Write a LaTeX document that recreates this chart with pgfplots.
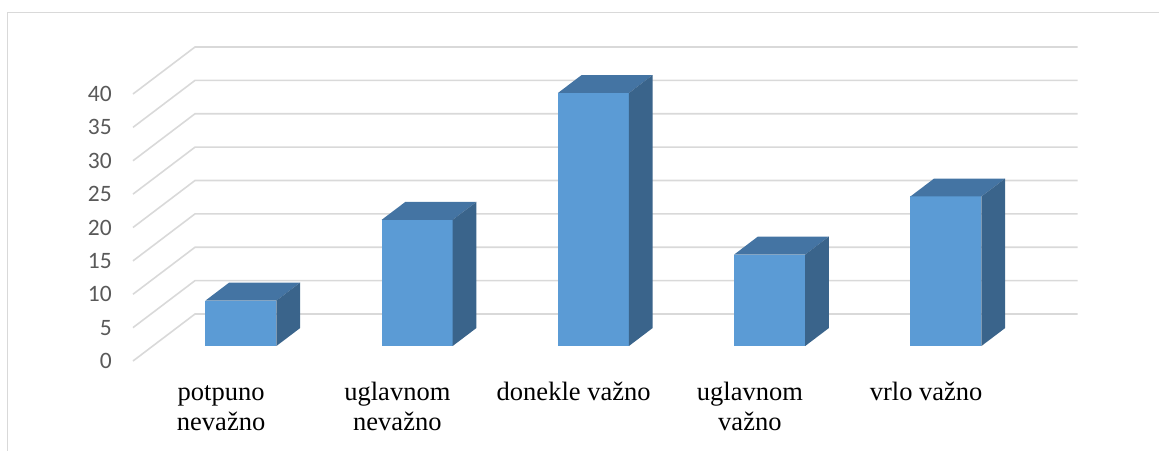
\documentclass[border=0pt]{standalone}
\usepackage{fontspec}
\setmainfont{Liberation Serif}
\newfontfamily\carlito{Carlito}
\usepackage{pgfplots}
\pgfplotsset{compat=1.18}
\definecolor{gridc}{HTML}{D9D9D9}
\definecolor{framec}{HTML}{D9D9D9}
\definecolor{barfront}{HTML}{5B9BD5}
\definecolor{bartop}{HTML}{4474A3}
\definecolor{barside}{HTML}{3A648B}
\definecolor{tickc}{HTML}{595959}

% one 3-D bar: #1 = category index (0..4), #2 = value
\newcommand\cube[2]{%
  \pgfmathsetmacro\xa{#1+0.4111}%
  \pgfmathsetmacro\xb{#1+0.8141}%
  \pgfmathsetmacro\xc{#1+0.9478}%
  \pgfmathsetmacro\xd{#1+0.5448}%
  \pgfmathsetmacro\yb{#2+2.253}%
  \pgfmathsetmacro\yc{#2+4.928}%
  \edef\temp{%
    \noexpand\addplot[fill=barfront, draw=none] coordinates {(\xa,2.253) (\xb,2.253) (\xb,\yb) (\xa,\yb)} --cycle;
    \noexpand\addplot[fill=bartop, draw=none] coordinates {(\xa,\yb) (\xb,\yb) (\xc,\yc) (\xd,\yc)} --cycle;
    \noexpand\addplot[fill=barside, draw=none] coordinates {(\xb,2.253) (\xc,4.928) (\xc,\yc) (\xb,\yb)} --cycle;
  }\temp}

\begin{document}
\begin{tikzpicture}
\path[use as bounding box] (-133pt,-89pt) rectangle (1026pt,361pt);
\draw[framec, line width=1.8pt] (-125.5pt,-95pt) -- (-125.5pt,348.5pt) -- (1030pt,348.5pt);
\begin{axis}[
  at={(0pt,0pt)}, anchor=origin,
  x=176.25pt, y=6.675pt,
  xmin=0, xmax=5.36, ymin=0, ymax=47.04,
  clip=false,
  axis line style={draw=none},
  major tick length=0pt,
  xtick={0.5,1.5,2.5,3.5,4.5},
  xticklabels={{\strut potpuno\\nevažno},{\strut uglavnom\\nevažno},{\strut donekle važno},{\strut uglavnom\\važno},{\strut vrlo važno}},
  xticklabel style={font=\fontsize{26.5}{30}\selectfont, align=center, anchor=north, inner sep=0pt, yshift=-18pt},
  ytick={0,5,...,40},
  /pgf/number format/assume math mode=true,
  yticklabel style={font=\carlito\fontsize{23.5}{28}\selectfont, text=tickc, anchor=east, inner sep=0pt, xshift=-21pt},
]
% gridlines: left wall diagonals and back wall horizontals
\addplot[gridc, line width=1.6pt] coordinates {(0,0) (0.3518,7.04) (5.36,7.04)};
\addplot[gridc, line width=1.6pt] coordinates {(0,5) (0.3518,12.04) (5.36,12.04)};
\addplot[gridc, line width=1.6pt] coordinates {(0,10) (0.3518,17.04) (5.36,17.04)};
\addplot[gridc, line width=1.6pt] coordinates {(0,15) (0.3518,22.04) (5.36,22.04)};
\addplot[gridc, line width=1.6pt] coordinates {(0,20) (0.3518,27.04) (5.36,27.04)};
\addplot[gridc, line width=1.6pt] coordinates {(0,25) (0.3518,32.04) (5.36,32.04)};
\addplot[gridc, line width=1.6pt] coordinates {(0,30) (0.3518,37.04) (5.36,37.04)};
\addplot[gridc, line width=1.6pt] coordinates {(0,35) (0.3518,42.04) (5.36,42.04)};
\addplot[gridc, line width=1.6pt] coordinates {(0,40) (0.3518,47.04) (5.36,47.04)};
% bars
\cube{0}{6.8}
\cube{1}{18.9}
\cube{2}{37.9}
\cube{3}{13.7}
\cube{4}{22.4}
\end{axis}
\end{tikzpicture}
\end{document}
